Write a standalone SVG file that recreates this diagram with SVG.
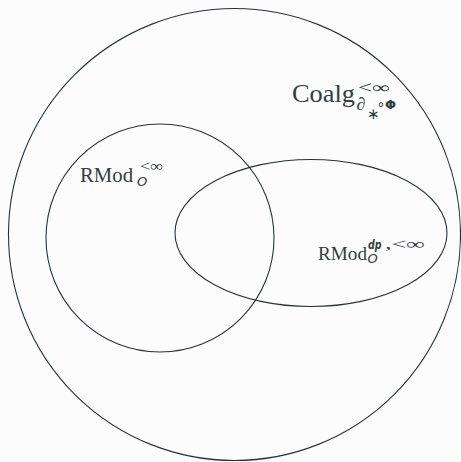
<svg xmlns="http://www.w3.org/2000/svg" width="461" height="462" viewBox="0 0 461 462">
<style>
.set{fill:none;stroke:#26343a;stroke-width:1.1}
.t{fill:#2f4044;font-family:"Liberation Serif","DejaVu Serif",serif}
.s{fill:#2f4044;font-family:"DejaVu Sans",sans-serif}
</style>
<rect width="461" height="462" fill="#fcfcfc"/>
<g id="coalg">
<circle class="set" cx="234.5" cy="234.5" r="226"/>
<text class="t" x="292" y="101.5" font-size="25" textLength="63" lengthAdjust="spacingAndGlyphs">Coalg</text>
<text class="t" x="358" y="93" font-size="16" textLength="32" lengthAdjust="spacingAndGlyphs">&lt;∞</text>
<text class="t" x="356.5" y="110" font-size="18" font-style="italic">∂</text>
<text class="s" x="367" y="118.5" font-size="15" textLength="10" lengthAdjust="spacing">∗</text>
<text class="s" x="381" y="108.5" font-size="14" text-anchor="middle" textLength="7" lengthAdjust="spacing">∘</text>
<text class="s" x="385" y="109" font-size="13" font-weight="bold">Φ</text>
</g>
<g id="rmod">
<circle class="set" cx="160" cy="238" r="114"/>
<text class="t" x="80" y="182" font-size="20.5" textLength="53" lengthAdjust="spacingAndGlyphs">RMod</text>
<text class="t" x="140" y="171" font-size="15" textLength="23" lengthAdjust="spacingAndGlyphs">&lt;∞</text>
<text class="s" x="137" y="185.5" font-size="13" font-style="italic">O</text>
</g>
<g id="rmod-dp">
<ellipse class="set" cx="311" cy="233" rx="136" ry="73.5"/>
<text class="t" x="318" y="260" font-size="19.5" textLength="49" lengthAdjust="spacingAndGlyphs">RMod</text>
<text class="s" x="368" y="249" font-size="13" font-style="italic" font-weight="bold" textLength="13.5" lengthAdjust="spacingAndGlyphs">dp</text>
<text class="t" x="385" y="249" font-size="15" textLength="40" lengthAdjust="spacingAndGlyphs">,&lt;∞</text>
<text class="s" x="367.5" y="263" font-size="13" font-style="italic">O</text>
</g>
<g id="connectors"/>
</svg>
